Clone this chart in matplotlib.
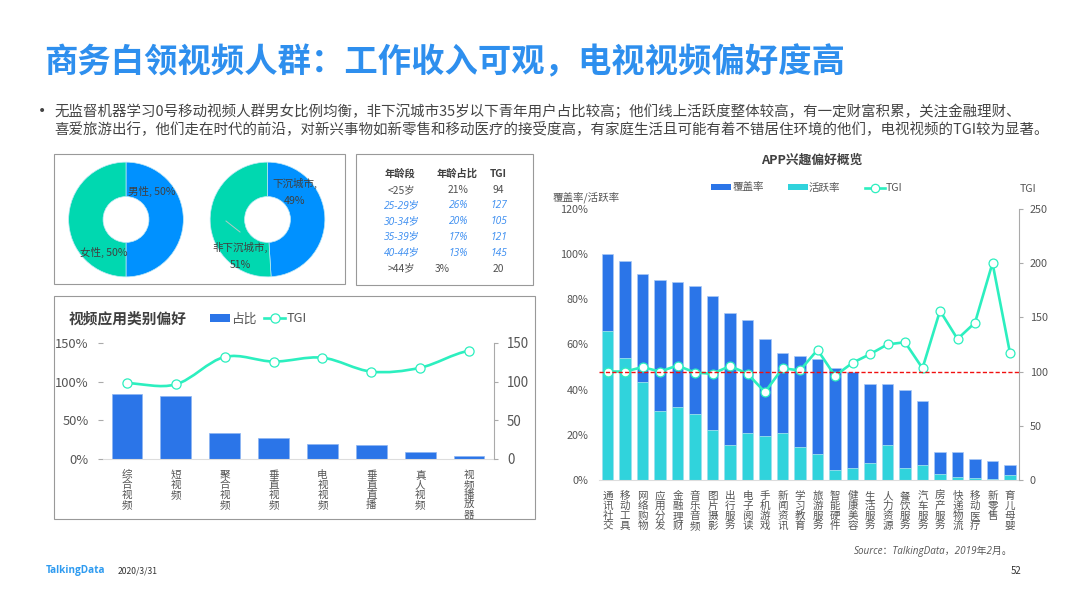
import matplotlib
matplotlib.use("Agg")
import matplotlib.pyplot as plt
from matplotlib.patches import Rectangle, PathPatch, Patch
from matplotlib.path import Path
from matplotlib.lines import Line2D
import numpy as np

plt.rcParams['font.family'] = ['Noto Sans CJK SC', 'DejaVu Sans']

W, H = 1066, 599
TITLE = "商务白领视频人群：工作收入可观，电视视频偏好度高"
BODY1 = "无监督机器学习0号移动视频人群男女比例均衡，非下沉城市35岁以下青年用户占比较高；他们线上活跃度整体较高，有一定财富积累，关注金融理财、"
BODY2 = "喜爱旅游出行，他们走在时代的前沿，对新兴事物如新零售和移动医疗的接受度高，有家庭生活且可能有着不错居住环境的他们，电视视频的TGI较为显著。"

gender_values = [50, 50]
city_values = [49, 51]

table_header = ["年龄段", "年龄占比", "TGI"]
table_age = ["<25岁", "25-29岁", "30-34岁", "35-39岁", "40-44岁", ">44岁"]
table_share = ["21%", "26%", "20%", "17%", "13%", "3%"]
table_tgi = ["94", "127", "105", "121", "145", "20"]
table_highlight = [False, True, True, True, True, False]

video_cats = ["综合视频", "短视频", "聚合视频", "垂直视频", "电视视频", "垂直直播", "真人视频", "视频播放器"]
video_share = [83.5, 81, 33, 27.5, 19, 18, 9, 4]
video_tgi = [98, 96.5, 132, 126, 131, 113, 118, 140]

app_cats = ["通讯社交", "移动工具", "网络购物", "应用分发", "金融理财", "音乐音频", "图片摄影", "出行服务",
            "电子阅读", "手机游戏", "新闻资讯", "学习教育", "旅游服务", "智能硬件", "健康美容", "生活服务",
            "人力资源", "餐饮服务", "汽车服务", "房产服务", "快递物流", "移动医疗", "新零售", "育儿母婴"]
app_cover = [100, 97, 91, 88.5, 87.5, 86, 81.5, 74, 71, 62.5, 56, 55,
             53.5, 49.5, 48, 42.5, 42.5, 40, 35, 12.5, 12.5, 9.5, 8.5, 6.5]
app_active = [66, 54, 43.5, 30.5, 32.5, 29, 22, 15.5, 21, 19.5, 21, 14.5,
              11.5, 4.5, 5.5, 7.5, 15.5, 5.5, 6.5, 2.5, 1.5, 1, 0.5, 2]
app_tgi = [100, 100, 104, 100, 105.5, 99, 98, 105, 98, 81, 103, 101,
           120, 96, 108, 116, 125, 127, 103, 156, 130, 145, 200, 117]

BLUE = "#2B75E8"
CYAN = "#30D3DC"
MINT = "#2CEFBF"
DONUT_BLUE = "#0091FF"
DONUT_GREEN = "#00D8B0"
TXT = "#555555"
FRAME = "#999999"

fig = plt.figure(figsize=(W / 100, H / 100), dpi=100, facecolor="white")


def axpx(l, t, r, b, **kw):
    return fig.add_axes([l / W, 1 - b / H, (r - l) / W, (b - t) / H], **kw)


def tx(x, y, s, **kw):
    kw.setdefault("va", "center")
    kw.setdefault("color", TXT)
    return fig.text(x / W, 1 - y / H, s, **kw)


def frame(l, t, r, b):
    fig.add_artist(Rectangle((l / W, 1 - b / H), (r - l) / W, (b - t) / H, transform=fig.transFigure,
                             fill=False, ec=FRAME, lw=0.8))


def vert(s):
    return "\n".join(s)


def smooth_path(xs, ys):
    xs, ys = np.asarray(xs, float), np.asarray(ys, float)
    verts = [(xs[0], ys[0])]
    codes = [Path.MOVETO]
    n = len(xs)
    for i in range(n - 1):
        y0 = ys[max(i - 1, 0)]
        y3 = ys[min(i + 2, n - 1)]
        verts += [(xs[i] + 1 / 3, ys[i] + (ys[i + 1] - y0) / 6),
                  (xs[i + 1] - 1 / 3, ys[i + 1] - (y3 - ys[i]) / 6),
                  (xs[i + 1], ys[i + 1])]
        codes += [Path.CURVE4] * 3
    return Path(verts, codes)


# ---- heading
tx(44.5, 63, TITLE, fontsize=24, fontweight="bold", color="#2E8FEE", ha="left")
tx(38, 110.5, "•", fontsize=10, color="#444444", ha="left", family=["DejaVu Sans"])
tx(54, 111, BODY1, fontsize=10.42, color="#444444", ha="left")
tx(54, 128.5, BODY2, fontsize=10.42, color="#444444", ha="left")

# ---- frames
frame(54, 154, 345, 284)
frame(356, 154, 533, 285)
frame(54, 296, 535, 519)


# ---- donuts
def donut(cx, cy, values):
    R = 57.5
    ax = axpx(cx - R - 1, cy - R - 1, cx + R + 1, cy + R + 1)
    ax.pie(values, colors=[DONUT_BLUE, DONUT_GREEN], startangle=90, counterclock=False, radius=1,
           wedgeprops=dict(width=0.6, edgecolor="#BFE8F5", linewidth=0.5))
    ax.set_xlim(-1.02, 1.02)
    ax.set_ylim(-1.02, 1.02)
    ax.patch.set_alpha(0)


donut(126, 219.5, gender_values)
donut(267.5, 219.5, city_values)
PIE_TXT = "#404040"
tx(151.5, 191, f"男性, {gender_values[0]}%", fontsize=7.6, ha="center", color=PIE_TXT)
tx(104, 252, f"女性, {gender_values[1]}%", fontsize=7.6, ha="center", color=PIE_TXT)
tx(294.5, 183, "下沉城市,", fontsize=7.6, ha="center", color=PIE_TXT)
tx(294.5, 201, f"{city_values[0]}%", fontsize=7.6, ha="center", color=PIE_TXT)
tx(240.5, 247, "非下沉城市,", fontsize=7.6, ha="center", color=PIE_TXT)
tx(240.5, 265, f"{city_values[1]}%", fontsize=7.6, ha="center", color=PIE_TXT)
fig.add_artist(Line2D([226 / W, 240 / W], [1 - 221 / H, 1 - 232 / H], color="#B5C9C5", lw=0.7))

# ---- table
col_x = [399.5, 457, 498.5]
row_y = [190.3, 206, 221.5, 237, 253, 268.5]
for x, s in zip(col_x, table_header):
    tx(x, 174, s, fontsize=7.4, fontweight="bold", color="#404040", ha="center")
for i, y in enumerate(row_y):
    hi = table_highlight[i]
    kw = dict(fontsize=7.4, ha="center", color="#3B8DF0" if hi else "#505050")
    if hi:
        kw.update(style="italic", family=["Open Sans", "Noto Sans CJK SC"])
    tx(401.5, y, table_age[i], **kw)
    tx(442 if table_share[i] == "3%" else 458.5, y, table_share[i], **kw)
    tx(498.5, y, table_tgi[i], **kw)

# ---- video category chart
ax = axpx(102.5, 343, 493.5, 459)
x = np.arange(len(video_cats))
ax.bar(x, video_share, width=0.63, color=BLUE, edgecolor="#8DB6F2", linewidth=0.5)
ax.set_xlim(-0.5, len(x) - 0.5)
ax.set_ylim(0, 150)
ax.set_yticks([0, 50, 100, 150], ["0%", "50%", "100%", "150%"])
ax.set_xticks(x, [vert(c) for c in video_cats])
ax.tick_params(axis="y", length=3.6, width=0.8, color="#AAAAAA", pad=6.5, labelsize=9.3, labelcolor=TXT)
ax.tick_params(axis="x", length=0, pad=8, labelsize=7.6, labelcolor=TXT)
for lab in ax.get_xticklabels():
    lab.set_linespacing(0.98)
for s in ["top", "left", "right"]:
    ax.spines[s].set_visible(False)
ax.spines["bottom"].set_color("#DDDDDD")

ax2 = ax.twinx()
ax2.set_ylim(0, 150)
ax2.set_yticks([0, 50, 100, 150], ["0", "50", "100", "150"])
ax2.tick_params(axis="y", length=3.2, width=0.8, color="#AAAAAA", pad=6.5, labelsize=9.6, labelcolor=TXT)
for s in ["top", "left", "bottom"]:
    ax2.spines[s].set_visible(False)
ax2.spines["right"].set_color("#AAAAAA")
ax2.add_patch(PathPatch(smooth_path(x, video_tgi), fill=False, ec=MINT, lw=1.9))
ax2.plot(x, video_tgi, ls="", marker="o", ms=6.6, mfc="white", mec=MINT, mew=0.9, clip_on=False)
tx(69, 318, "视频应用类别偏好", fontsize=10.6, fontweight="bold", color="#404040", ha="left")
fig.legend(handles=[Patch(fc=BLUE, label="占比"),
                    Line2D([], [], color=MINT, lw=1.9, marker="o", ms=6.6, mfc="white", mec=MINT, mew=0.9, label="TGI")],
           loc="center left", bbox_to_anchor=(209.5 / W, 1 - 319 / H), ncol=2, frameon=False, fontsize=9.2,
           labelcolor=TXT, handlelength=1.6, handleheight=0.55, handletextpad=0.1, columnspacing=0.6,
           borderpad=0, borderaxespad=0)

# ---- APP chart
ax = axpx(598.75, 208.8, 1018.75, 480)
x = np.arange(len(app_cats))
ax.bar(x, app_cover, width=0.63, color=BLUE, edgecolor="#A9C8F5", linewidth=0.5)
ax.bar(x, app_active, width=0.63, color=CYAN, edgecolor="#B4ECEF", linewidth=0.5)
ax.set_xlim(-0.5, len(x) - 0.5)
ax.set_ylim(0, 120)
ax.set_yticks(np.arange(0, 121, 20), [f"{v}%" for v in range(0, 121, 20)])
ax.set_xticks(x, [vert(c) for c in app_cats])
ax.tick_params(axis="y", length=0, pad=7.5, labelsize=7.8, labelcolor=TXT)
ax.tick_params(axis="x", length=0, pad=8, labelsize=7.6, labelcolor=TXT)
for lab in ax.get_xticklabels():
    lab.set_linespacing(0.98)
for s in ["top", "left", "right"]:
    ax.spines[s].set_visible(False)
ax.spines["bottom"].set_color("#DDDDDD")

ax2 = ax.twinx()
ax2.set_ylim(0, 250)
ax2.set_yticks(np.arange(0, 251, 50), [str(v) for v in range(0, 251, 50)])
ax2.tick_params(axis="y", length=3, width=0.8, color="#AAAAAA", pad=5, labelsize=7.8, labelcolor=TXT)
for s in ["top", "left", "bottom"]:
    ax2.spines[s].set_visible(False)
ax2.spines["right"].set_color("#AAAAAA")
ax2.plot(x, app_tgi, color=MINT, lw=1.9, marker="o", ms=6.4, mfc="white", mec=MINT, mew=0.9, zorder=3)
ax2.axhline(100, color="#F01010", lw=1.0, ls=(0, (3, 1.6)), zorder=4)

tx(812, 160, "APP兴趣偏好概览", fontsize=9.2, fontweight="bold", color="#404040", ha="center")
tx(553, 198, "覆盖率/活跃率", fontsize=7.6, ha="left")
tx(1020, 189, "TGI", fontsize=7.6, ha="left")
fig.legend(handles=[Patch(fc=BLUE, label="覆盖率"), Patch(fc=CYAN, label="活跃率"),
                    Line2D([], [], color=MINT, lw=1.9, marker="o", ms=6, mfc="white", mec=MINT, mew=0.9, label="TGI")],
           loc="center left", bbox_to_anchor=(711 / W, 1 - 188 / H), ncol=3, frameon=False, fontsize=7.6,
           labelcolor=TXT, handlelength=1.9, handleheight=0.55, handletextpad=0.1, columnspacing=2.3,
           borderpad=0, borderaxespad=0)

# ---- footer
tx(854, 551, "Source：TalkingData，2019年2月。", fontsize=7.1, style="italic",
   family=["Open Sans", "Noto Sans CJK SC"], color="#555555", ha="left")
tx(46, 571, "TalkingData", fontsize=7.2, fontweight="bold", color="#2E9BF0", ha="left", family=["Open Sans", "DejaVu Sans"])
tx(118, 571, "2020/3/31", fontsize=6.2, color="#333333", ha="left")
tx(1011, 571, "52", fontsize=7, color="#333333", ha="left")

fig.savefig("out.png", dpi=100)
